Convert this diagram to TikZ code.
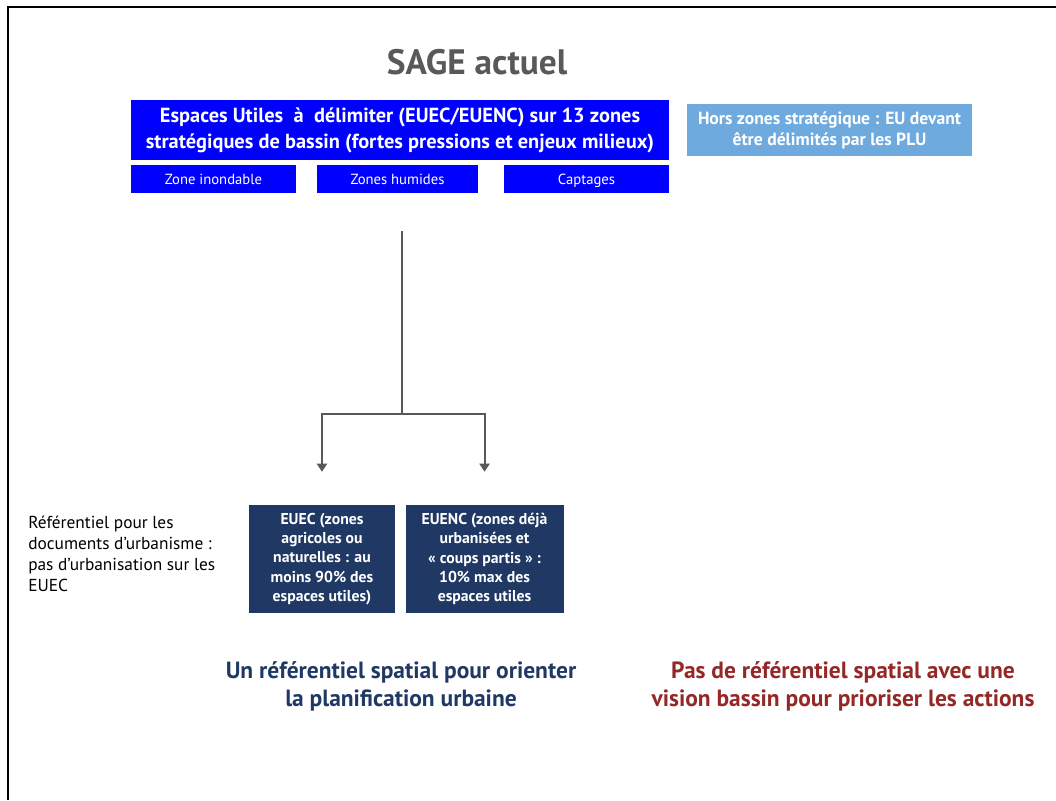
\documentclass[tikz,border=0pt]{standalone}
\usepackage{fontspec}
\setmainfont{PT Sans}
\usetikzlibrary{arrows.meta,positioning}

\definecolor{boxblue}{RGB}{0,0,255}
\definecolor{skyblue}{RGB}{111,170,222}
\definecolor{navy}{RGB}{31,56,100}
\definecolor{darkred}{RGB}{148,40,38}
\definecolor{greytext}{RGB}{89,89,89}

\begin{document}
\begin{tikzpicture}[x=0.75pt, y=-0.75pt]
	\tikzset{MainBoxStyle/.style = {
			shape=rectangle, fill=boxblue, text=white, align=center,
			font=\fontsize{15.3}{19.5}\selectfont\bfseries,
			inner sep=0pt
	}}
	\tikzset{ZoneBoxStyle/.style = {
			shape=rectangle, fill=boxblue, text=white,
			font=\fontsize{11}{12}\selectfont,
			text height=10pt, text depth=1.5pt,
			minimum height=21pt, inner sep=0pt
	}}
	\tikzset{NavyBoxStyle/.style = {
			shape=rectangle, fill=navy, text=white, align=center,
			font=\fontsize{11.8}{14.5}\selectfont\bfseries,
			minimum height=81pt, inner sep=0pt
	}}
	\tikzset{NoteStyle/.style = {
			align=left, inner sep=0pt,
			font=\fontsize{13}{15.75}\selectfont
	}}
	\tikzset{ResultStyle/.style = {
			align=center, inner sep=0pt,
			font=\fontsize{17.6}{21}\selectfont\bfseries
	}}
	\tikzset{LinkStyle/.style = {
			draw=greytext, line width=1.5pt
	}}
	\tikzset{ArrowStyle/.style = {
			LinkStyle, -{Triangle[width=7.5pt,length=6pt]}, shorten >=24.75pt
	}}
	\useasboundingbox (0,0) rectangle (1056,800);
	\draw[line width=1.5pt] (8,800) -- (8,7) -- (1056,7);

	\node[font=\fontsize{26.5}{30}\selectfont\bfseries, text=greytext] (title) at (477,62) {SAGE actuel};
	\node[MainBoxStyle, minimum width=403.5pt, minimum height=45pt] (main) at (400,130)
		{Espaces Utiles ~à ~délimiter (EUEC/EUENC) sur 13 zones\\stratégiques de bassin (fortes pressions et enjeux milieux)};
	\node[ZoneBoxStyle, minimum width=123.75pt] (inond) at (213.5,179) {Zone inondable};
	\node[ZoneBoxStyle, minimum width=120.75pt] (humid) at (397.5,179) {Zones humides};
	\node[ZoneBoxStyle, minimum width=123.75pt] (capt) at (586.5,179) {Captages};
	\node[MainBoxStyle, fill=skyblue, minimum width=213.75pt, minimum height=39pt,
		font=\fontsize{13.2}{15.75}\selectfont\bfseries] (hors) at (829.5,130)
		{Hors zones stratégique : EU devant\\être délimités par les PLU};

	\node[NavyBoxStyle, minimum width=109.5pt] (euec) at (322,559)
		{EUEC (zones\\agricoles ou\\naturelles : au\\moins 90\% des\\espaces utiles)};
	\node[NavyBoxStyle, minimum width=118.5pt, right=7.5pt of euec] (euenc)
		{EUENC (zones déjà\\urbanisées et\\« coups partis » :\\10\% max des\\espaces utiles};
	\node[NoteStyle, anchor=west] (note) at (28,554)
		{Référentiel pour les\\documents d’urbanisme :\\pas d’urbanisation sur les\\EUEC};

	\node[ResultStyle, text=navy] (orient) at (401,686)
		{Un référentiel spatial pour orienter\\la planification urbaine};
	\node[ResultStyle, text=darkred] (vision) at (843,686)
		{Pas de référentiel spatial avec une\\vision bassin pour prioriser les actions};

	\coordinate (stem) at (402,231);
	\coordinate (fork) at (402,414);
	\draw[LinkStyle] (stem) -- (fork);
	\draw[ArrowStyle] (fork) -| (euec);
	\draw[ArrowStyle] (fork) -| (euenc);
\end{tikzpicture}
\end{document}
